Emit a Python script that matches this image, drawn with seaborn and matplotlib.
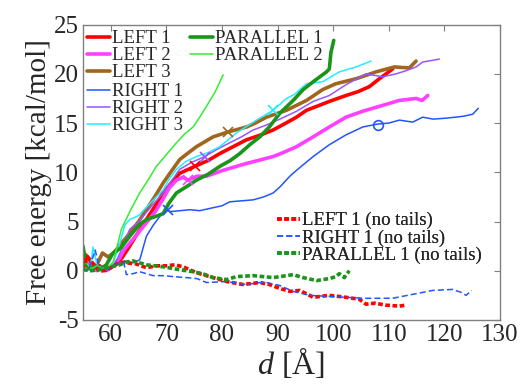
import numpy as np
import pandas as pd
import matplotlib
matplotlib.use("Agg")
import matplotlib.pyplot as plt
import seaborn as sns

# ---------------- data ----------------
left1_x = [55.5, 56.3, 57.0, 58.0, 59.0, 60.0, 61.0, 62.0, 63.4, 64.8, 66.4, 68.0, 69.4, 71.0, 72.4, 75.1, 77.5, 79.6, 82.0, 84.4, 87.0, 89.2, 91.5, 93.4, 95.2, 97.5, 99.3, 102.3, 104.5, 106.5, 108.3, 110.7]
left1_y = [1.6, 1.0, 0.2, 0.5, 0.0, 0.3, 0.8, 1.3, 2.5, 3.8, 5.2, 6.6, 7.9, 9.0, 9.9, 10.6, 11.2, 11.9, 12.6, 13.3, 13.8, 14.3, 15.0, 15.6, 16.3, 16.8, 17.2, 17.8, 18.2, 18.7, 19.5, 20.5]
left2_x = [55.3, 56.5, 57.5, 58.5, 59.5, 60.5, 61.5, 62.5, 64.0, 66.0, 68.0, 69.4, 70.5, 71.8, 73.0, 73.9, 75.5, 77.2, 80.2, 82.0, 84.4, 86.5, 89.2, 91.0, 93.4, 96.4, 99.3, 102.3, 105.3, 108.3, 111.9, 114.9, 116.0, 117.0]
left2_y = [0.8, 0.3, 0.0, 0.4, 0.2, 0.6, 1.2, 2.2, 3.2, 4.6, 6.0, 7.3, 8.4, 9.2, 9.5, 9.2, 9.6, 9.6, 10.2, 10.5, 10.9, 11.2, 11.6, 12.0, 12.6, 13.6, 14.6, 15.6, 16.2, 16.7, 17.3, 17.5, 17.3, 17.8]
left3_x = [55.5, 56.5, 57.5, 58.5, 59.5, 60.5, 61.5, 63.4, 65.0, 66.4, 68.0, 69.4, 71.0, 72.4, 74.0, 75.4, 78.4, 81.1, 84.4, 86.0, 88.0, 91.6, 95.2, 98.1, 100.5, 104.1, 107.7, 111.0, 113.7, 114.9]
left3_y = [0.6, 0.1, 0.6, 1.8, 1.4, 1.8, 2.5, 3.8, 5.0, 6.2, 7.6, 8.9, 10.2, 11.3, 12.0, 12.6, 13.6, 14.1, 14.6, 15.0, 15.6, 16.3, 17.3, 18.4, 19.0, 19.5, 20.2, 20.7, 20.6, 21.3]
right1_x = [55.3, 56.0, 57.2, 58.0, 59.5, 61.0, 62.5, 64.0, 65.2, 66.4, 67.6, 68.8, 70.0, 70.6, 72.5, 74.2, 76.0, 78.4, 80.0, 81.4, 83.5, 85.6, 87.5, 89.2, 90.4, 92.2, 93.4, 96.4, 99.3, 102.3, 105.3, 108.0, 110.0, 111.9, 114.3, 116.1, 118.0, 120.3, 122.0, 123.5, 125.1, 126.1]
right1_y = [0.8, 0.2, 0.5, 0.1, 0.3, 0.6, 1.0, 0.8, 1.1, 3.5, 4.6, 5.5, 6.2, 6.0, 6.1, 6.2, 6.1, 6.4, 6.6, 7.0, 7.1, 7.2, 7.5, 7.9, 8.5, 9.6, 10.2, 11.6, 12.8, 13.8, 14.6, 14.9, 15.0, 15.3, 15.1, 15.6, 15.4, 15.5, 15.6, 15.7, 15.9, 16.5]
right2_x = [55.3, 56.5, 57.5, 58.5, 59.5, 60.5, 61.5, 63.4, 65.0, 66.5, 68.0, 69.4, 71.0, 72.4, 74.5, 76.9, 79.0, 81.4, 83.5, 85.6, 88.0, 90.4, 93.4, 96.4, 99.3, 102.3, 105.9, 108.9, 111.3, 113.0, 114.9, 116.1, 119.1]
right2_y = [1.2, 0.4, 0.1, 0.3, 0.0, 0.4, 1.6, 4.2, 5.0, 6.0, 7.0, 7.9, 9.2, 10.3, 11.0, 11.6, 12.3, 13.0, 13.6, 14.3, 14.8, 15.4, 16.2, 17.2, 17.8, 18.9, 20.0, 19.7, 20.0, 20.3, 20.7, 21.2, 21.5]
right3_x = [55.5, 56.3, 56.8, 57.5, 58.5, 59.5, 60.5, 61.5, 62.5, 63.4, 65.0, 66.5, 68.0, 69.4, 70.5, 71.8, 73.5, 75.4, 77.5, 79.6, 82.6, 86.2, 89.2, 91.6, 93.0, 95.2, 98.1, 101.1, 104.1, 106.8]
right3_y = [0.6, 0.2, 2.4, 0.6, 0.1, 0.3, 0.9, 2.5, 4.6, 5.2, 5.6, 6.5, 7.4, 8.2, 9.3, 10.3, 11.1, 11.6, 12.0, 12.6, 14.0, 15.3, 16.3, 17.5, 17.9, 19.0, 19.2, 20.2, 20.7, 21.3]
par1_x = [55.0, 55.6, 56.3, 57.2, 58.2, 59.2, 60.4, 61.8, 63.4, 65.0, 66.4, 68.0, 69.4, 70.5, 71.8, 73.5, 75.4, 77.5, 79.6, 81.5, 83.2, 85.0, 86.8, 88.5, 90.4, 92.8, 94.6, 96.4, 98.8, 99.3, 99.6, 100.1]
par1_y = [2.5, 0.6, 0.2, 0.5, 0.2, 0.6, 1.8, 2.3, 3.5, 4.6, 5.2, 5.5, 5.8, 6.9, 7.9, 8.5, 9.2, 9.8, 10.6, 11.2, 11.9, 12.8, 13.6, 14.6, 16.0, 17.3, 18.4, 19.2, 20.2, 20.5, 22.2, 23.4]
par2_x = [55.4, 56.5, 57.5, 58.5, 59.5, 60.4, 61.9, 63.5, 65.2, 66.8, 68.2, 70.0, 71.8, 73.3, 74.8, 76.0, 77.2, 78.8, 80.2]
par2_y = [0.9, 0.2, 0.5, 0.2, 0.4, 0.8, 4.2, 6.1, 7.9, 9.3, 10.6, 11.8, 13.0, 13.9, 14.6, 15.6, 16.7, 18.2, 19.9]

left1_nt_x = [55.0, 55.7, 56.3, 57.0, 58.0, 59.2, 60.4, 61.6, 62.8, 64.5, 66.4, 68.2, 70.0, 71.5, 73.0, 75.4, 78.4, 80.8, 83.8, 86.8, 88.5, 90.4, 92.2, 94.0, 96.4, 99.3, 102.3, 104.7, 105.9, 107.5, 109.5, 111.9, 113.0]
left1_nt_y = [0.1, 1.5, 1.1, 0.6, -0.1, 0.1, 0.4, 0.9, 0.8, 0.7, 0.3, 0.5, 0.5, 0.6, 0.4, -0.2, -0.7, -1.1, -1.4, -1.2, -1.4, -1.8, -2.1, -2.0, -2.7, -2.5, -2.7, -2.9, -3.4, -3.3, -3.5, -3.6, -3.5]
right1_nt_x = [55.0, 56.0, 57.2, 58.0, 59.5, 61.6, 62.3, 62.8, 64.0, 65.2, 67.6, 69.5, 71.2, 73.6, 75.5, 77.2, 80.8, 84.4, 86.8, 88.0, 90.4, 92.8, 95.8, 98.8, 102.3, 105.3, 108.0, 110.7, 114.3, 117.9, 121.5, 123.0, 123.9, 124.9]
right1_nt_y = [0.3, 0.0, 2.1, 0.1, 0.2, 0.8, 0.9, -0.4, -0.3, -0.1, -0.5, -0.5, -0.6, -0.7, -0.8, -1.2, -1.1, -1.4, -1.2, -1.2, -1.5, -2.1, -2.5, -2.6, -2.7, -2.8, -2.8, -2.8, -2.4, -2.0, -1.9, -2.2, -2.5, -2.0]
par1_nt_x = [55.0, 56.5, 58.0, 59.5, 61.6, 63.0, 64.0, 66.4, 69.4, 72.4, 74.8, 76.5, 78.4, 80.8, 82.6, 85.6, 89.2, 90.4, 92.8, 94.6, 97.0, 99.3, 100.5, 101.1, 102.0, 102.9]
par1_nt_y = [0.1, 0.0, 0.1, 0.3, 0.6, 0.9, 1.0, 0.6, 0.4, 0.1, -0.1, -0.3, -0.7, -0.9, -0.6, -0.5, -0.7, -0.6, -0.4, -0.7, -1.0, -0.8, -0.6, -0.3, -0.7, 0.0]

# marker points (x) on each curve and circle on RIGHT 1
cross_x = [75.1, 73.9, 81.1, 70.2, 76.9, 89.2]
cross_y = [10.6, 9.2, 14.1, 6.2, 11.6, 16.3]
cross_series = ["LEFT 1", "LEFT 2", "LEFT 3", "RIGHT 1", "RIGHT 2", "RIGHT 3"]
circle_x = [108.0]
circle_y = [14.8]

x_ticks = [60, 70, 80, 90, 100, 110, 120, 130]
y_ticks = [-5, 0, 5, 10, 15, 20, 25]

colors = {
    "LEFT 1": "#ff0000",
    "LEFT 2": "#ff40ff",
    "LEFT 3": "#a0661e",
    "RIGHT 1": "#2255ff",
    "RIGHT 2": "#9955ff",
    "RIGHT 3": "#22eeff",
    "PARALLEL 1": "#1a951a",
    "PARALLEL 2": "#33ee33",
    "LEFT 1 (no tails)": "#ff0000",
    "RIGHT 1 (no tails)": "#2255ff",
    "PARALLEL 1 (no tails)": "#1a951a",
}

THICK = 2.6
THIN = 1.1
series = [
    ("LEFT 1", left1_x, left1_y, THICK, "-"),
    ("LEFT 2", left2_x, left2_y, THICK, "-"),
    ("LEFT 3", left3_x, left3_y, THICK, "-"),
    ("RIGHT 1", right1_x, right1_y, THIN, "-"),
    ("RIGHT 2", right2_x, right2_y, THIN, "-"),
    ("RIGHT 3", right3_x, right3_y, THIN, "-"),
    ("PARALLEL 1", par1_x, par1_y, THICK, "-"),
    ("PARALLEL 2", par2_x, par2_y, THIN, "-"),
    ("LEFT 1 (no tails)", left1_nt_x, left1_nt_y, THICK, (0, (1.3, 0.7))),
    ("RIGHT 1 (no tails)", right1_nt_x, right1_nt_y, THIN, (0, (4, 2))),
    ("PARALLEL 1 (no tails)", par1_nt_x, par1_nt_y, THICK, (0, (1.3, 0.7))),
]

# ---------------- plot ----------------
sns.set_theme(style="white")
plt.rcParams["font.family"] = ["Liberation Serif", "DejaVu Serif"]
plt.rcParams["mathtext.fontset"] = "custom"
plt.rcParams["mathtext.it"] = "Liberation Serif:italic"
plt.rcParams["mathtext.rm"] = "Liberation Serif"

fig = plt.figure(figsize=(5.23, 3.85), dpi=100)
ax = fig.add_axes([0.1587, 0.169, 0.7973, 0.767])

handles = {}
for name, xs, ys, lw, ls in series:
    df = pd.DataFrame({"x": xs, "y": ys})
    sns.lineplot(data=df, x="x", y="y", ax=ax, color=colors[name], lw=lw,
                 linestyle=ls, sort=False, estimator=None, label=name, legend=False)
    handles[name] = ax.lines[-1]

for cx, cy, nm in zip(cross_x, cross_y, cross_series):
    ax.plot([cx], [cy], marker="x", ms=7, mew=1.2, color=colors[nm], ls="none")
ax.plot(circle_x, circle_y, marker="o", ms=7, mfc="none", mew=1.2,
        color=colors["RIGHT 1"], ls="none")

ax.set_xlim(55, 130)
ax.set_ylim(-5, 25)
ax.set_xticks(x_ticks)
ax.set_yticks(y_ticks)
ax.set_xticklabels([str(t) for t in x_ticks])
ax.set_yticklabels([str(t) for t in y_ticks])
ax.tick_params(direction="in", length=4, width=0.8, color="#808080",
               top=True, right=True, labelsize=18, pad=3)
for sp in ax.spines.values():
    sp.set_color("#808080")
    sp.set_linewidth(1.0)

ax.set_xlabel(r"$d$ [Å]", fontsize=23, labelpad=0)
ax.set_ylabel("Free energy [kcal/mol]", fontsize=21, labelpad=1)

leg_kw = dict(frameon=False, fontsize=13.5, handlelength=1.25, handletextpad=0.1,
              labelspacing=0.0, borderpad=0.0, borderaxespad=0.0)

names_l = ["LEFT 1", "LEFT 2", "LEFT 3"]
names_r = ["RIGHT 1", "RIGHT 2", "RIGHT 3"]
names_p = ["PARALLEL 1", "PARALLEL 2"]
names_nt = ["LEFT 1 (no tails)", "RIGHT 1 (no tails)", "PARALLEL 1 (no tails)"]

def add_leg(names, loc_xy):
    lg = ax.legend([handles[n] for n in names], names, loc="upper left",
                   bbox_to_anchor=loc_xy, bbox_transform=fig.transFigure, **leg_kw)
    ax.add_artist(lg)
    return lg

add_leg(names_l, (87 / 523, 1 - 30 / 385))
add_leg(names_r, (87 / 523, 1 - 83 / 385))
add_leg(names_p, (190 / 523, 1 - 30 / 385))
add_leg(names_nt, (277 / 523, 1 - 212 / 385))

fig.savefig("out.png", dpi=100)
